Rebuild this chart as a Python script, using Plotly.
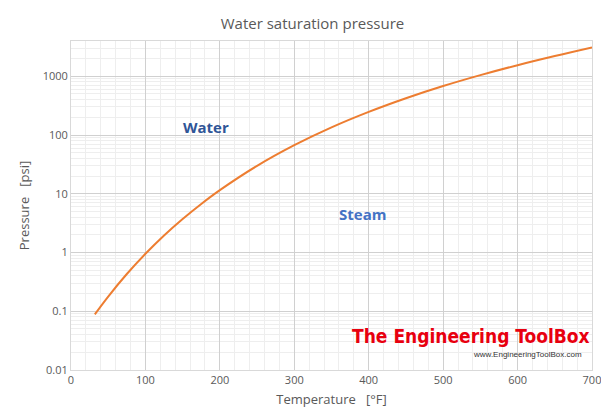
import plotly.graph_objects as go

temp_f = [32, 50, 75, 100, 125, 150, 175, 200, 250, 300, 350, 400, 450, 500, 550, 600, 650, 700]
pressure_psi = [0.0887, 0.178, 0.43, 0.95, 1.95, 3.72, 6.7, 11.5, 29.8, 67.0, 134.6, 247.0, 422.0, 681.0, 1045.0, 1543.0, 2208.0, 3094.0]

fig = go.Figure()
fig.add_trace(go.Scatter(x=temp_f, y=pressure_psi, mode="lines", line=dict(color="#ED7D31", width=2, shape="spline"), showlegend=False))

grid = "#d9d9d9"
fig.update_layout(
    width=609, height=411, paper_bgcolor="white", plot_bgcolor="white",
    margin=dict(l=63, r=25, t=33, b=49, autoexpand=False),
    title=dict(text="Water saturation pressure", x=0.5, xanchor="center", y=0.975, yanchor="top",
               font=dict(family="Open Sans", size=15, color="#595959")),
    font=dict(family="Open Sans", color="#595959", size=11),
    xaxis=dict(range=[0, 700], dtick=100, showgrid=True, gridcolor="#d0d0d0", zeroline=False,
               minor=dict(dtick=20, showgrid=True, gridcolor="#eeeeee"), automargin=False,
               showline=True, linecolor=grid, mirror=True, ticks="",
               title=dict(text="Temperature   [°F]", font=dict(size=13, color="#595959"), standoff=8)),
    yaxis=dict(type="log", range=[-2, 3.6], tickvals=[0.01, 0.1, 1, 10, 100, 1000],
               ticktext=["0.01", "0.1", "1", "10", "100", "1000"], automargin=False,
               showgrid=True, gridcolor="#d0d0d0", zeroline=False,
               minor=dict(tickvals=[m * 10**e for e in range(-2, 4) for m in range(2, 10)], showgrid=True, gridcolor="#eeeeee"),
               showline=True, linecolor=grid, mirror=True, ticks="",
               title=dict(text="Pressure   [psi]", font=dict(size=13, color="#595959"), standoff=10)),
)
fig.add_annotation(x=181, y=2.13, xref="x", yref="y", text="<b>Water</b>", showarrow=False,
                   font=dict(family="Open Sans", size=15, color="#2F5597"))
fig.add_annotation(x=392, y=0.66, xref="x", yref="y", text="<b>Steam</b>", showarrow=False,
                   font=dict(family="Open Sans", size=15, color="#4472C4"))
fig.add_annotation(x=537, y=-1.42, xref="x", yref="y", text="<b>The Engineering ToolBox</b>", showarrow=False,
                   font=dict(family="DejaVu Sans Condensed", size=19, color="#E8000F"))
fig.add_annotation(x=613, y=-1.73, xref="x", yref="y", text="www.EngineeringToolBox.com", showarrow=False,
                   font=dict(family="Liberation Sans", size=8, color="#333333"))
fig.write_html("out.html")
